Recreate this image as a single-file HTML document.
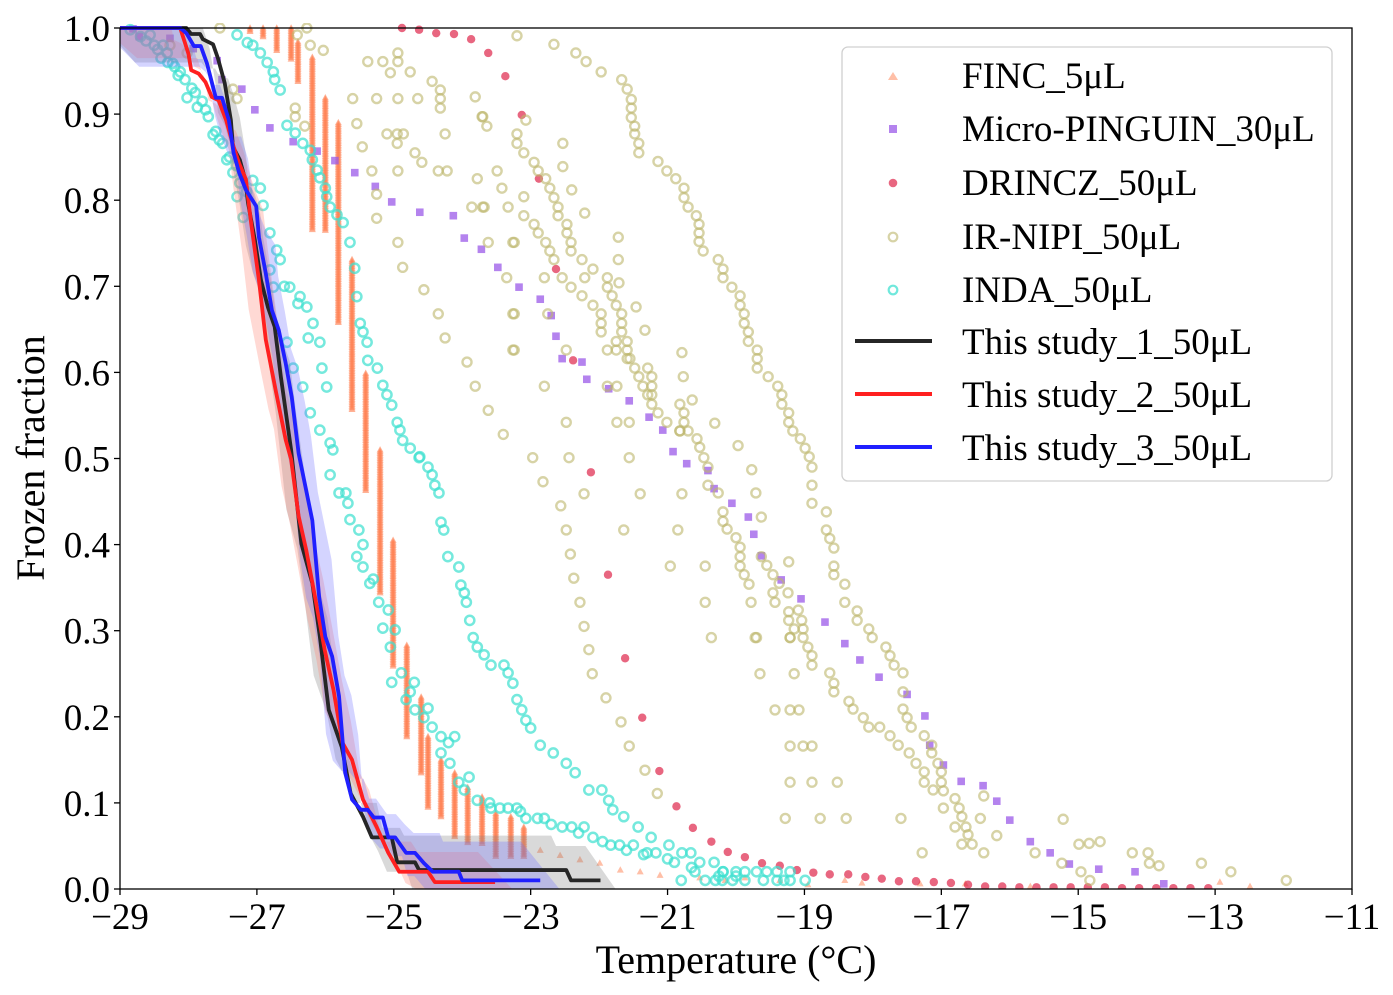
<!DOCTYPE html>
<html><head><meta charset="utf-8">
<style>
html,body{margin:0;padding:0;background:#fff;}
svg{display:block;font-family:"Liberation Serif","DejaVu Serif",serif;}
</style></head>
<body>
<svg id="chart" width="1393" height="995" viewBox="0 0 1393 995" xmlns="http://www.w3.org/2000/svg">
<rect width="1393" height="995" fill="#fff"/>
<g id="plot"></g>
<rect x="120" y="28" width="1232" height="861" fill="none" stroke="#000" stroke-width="1.3"/>
<g id="xticks"></g>
<g id="yticks"></g>
<text x="736" y="973" font-size="40" text-anchor="middle">Temperature (°C)</text>
<text transform="translate(44,458) rotate(-90)" font-size="40" text-anchor="middle">Frozen fraction</text>
<g id="legend">
<rect x="842" y="47" width="490" height="434" rx="6" fill="#fff" fill-opacity="0.85" stroke="#d0d0d0" stroke-width="1.3"/>
<g><polygon points="893,72 888,80 898,80" fill="#ff7f50" fill-opacity="0.5"/><text x="962" y="88" font-size="37">FINC_5μL</text></g>
<g><rect x="889" y="125" width="8" height="8" fill="#9b59e8" fill-opacity="0.75"/><text x="962" y="141" font-size="37">Micro-PINGUIN_30μL</text></g>
<g><circle cx="893" cy="183" r="4.3" fill="#dc143c" fill-opacity="0.65"/><text x="962" y="195" font-size="37">DRINCZ_50μL</text></g>
<g><circle cx="893" cy="237" r="4.3" fill="none" stroke="#bdb56b" stroke-opacity="0.6" stroke-width="2.2"/><text x="962" y="249" font-size="37">IR-NIPI_50μL</text></g>
<g><circle cx="893" cy="290" r="4.3" fill="none" stroke="#40e0d0" stroke-opacity="0.75" stroke-width="2.2"/><text x="962" y="302" font-size="37">INDA_50μL</text></g>
<g><line x1="855" y1="341" x2="932" y2="341" stroke="#262626" stroke-width="4"/><text x="962" y="354" font-size="37">This study_1_50μL</text></g>
<g><line x1="855" y1="394" x2="932" y2="394" stroke="#ff2020" stroke-width="4"/><text x="962" y="407" font-size="37">This study_2_50μL</text></g>
<g><line x1="855" y1="447" x2="932" y2="447" stroke="#2020ff" stroke-width="4"/><text x="962" y="460" font-size="37">This study_3_50μL</text></g>
</g>
</svg>
<script>
// ---- axis ticks ----
const xTickVals = [-29,-27,-25,-23,-21,-19,-17,-15,-13,-11];
const yTickVals = [0,0.1,0.2,0.3,0.4,0.5,0.6,0.7,0.8,0.9,1.0];
// ---- FINC streaks: temperature, top fraction, bottom fraction ----
const fincT   = [-27.10,-26.91,-26.71,-26.50,-26.40,-26.19,-26.00,-25.81,-25.61,-25.41,-25.20,-25.01,-24.81,-24.60,-24.50,-24.31,-24.11,-23.92,-23.71,-23.51,-23.29,-23.10];
const fincTop = [1.0,1.0,1.0,1.0,0.984,0.966,0.919,0.89,0.731,0.599,0.51,0.405,0.283,0.223,0.177,0.15,0.135,0.118,0.107,0.088,0.084,0.072];
const fincBot = [0.995,0.99,0.974,0.963,0.937,0.765,0.765,0.657,0.556,0.463,0.344,0.258,0.177,0.135,0.095,0.084,0.06,0.053,0.053,0.037,0.037,0.037];
const fincSparseT = [-22.86,-22.57,-22.28,-21.99,-21.69,-21.40,-21.11,-20.53,-20.16,-19.87,-19.36,-18.95,-18.41,-18.16,-17.31,-16.65,-15.70,-12.93,-12.49];
const fincSparseF = [0.045,0.039,0.034,0.030,0.022,0.020,0.016,0.013,0.010,0.013,0.010,0.005,0.010,0.007,0.006,0.006,0.003,0.008,0.003];
// ---- Micro-PINGUIN ----
const pingT = [-28.81,-28.72,-28.27,-27.93,-27.58,-27.51,-27.22,-27.03,-26.81,-26.47,-26.12,-25.86,-25.57,-25.27,-25.03,-24.62,-24.13,-23.97,-23.72,-23.48,-23.17,-22.86,-22.70,-22.63,-22.54,-22.25,-22.18,-21.86,-21.56,-21.27,-21.07,-20.92,-20.72,-20.41,-20.32,-20.06,-19.82,-19.74,-19.63,-19.34,-19.05,-18.70,-18.41,-18.19,-17.91,-17.50,-17.24,-17.17,-16.97,-16.71,-16.39,-16.19,-16.0,-15.70,-15.41,-15.13,-14.70,-14.17,-13.75];
const pingF = [0.999,0.99,0.988,0.976,0.962,0.94,0.929,0.905,0.884,0.868,0.857,0.846,0.832,0.816,0.798,0.786,0.782,0.756,0.743,0.722,0.699,0.685,0.666,0.642,0.616,0.612,0.592,0.581,0.567,0.548,0.533,0.508,0.494,0.486,0.465,0.448,0.432,0.412,0.387,0.359,0.337,0.31,0.285,0.266,0.246,0.226,0.201,0.167,0.144,0.125,0.12,0.102,0.08,0.055,0.042,0.029,0.023,0.02,0.006];
// ---- DRINCZ ----
const drinT = [-24.88,-24.63,-24.38,-24.12,-23.87,-23.62,-23.37,-23.13,-22.88,-22.63,-22.38,-22.12,-21.87,-21.62,-21.37,-21.12,-20.87,-20.63,-20.36,-20.12,-19.87,-19.62,-19.36,-19.11,-18.87,-18.63,-18.36,-18.11,-17.87,-17.62,-17.37,-17.11,-16.86,-16.61,-16.36,-16.11,-15.86,-15.61,-15.36,-15.11,-14.86,-14.61,-14.36,-14.11,-13.86,-13.61,-13.36,-13.10];
const drinF = [1.0,0.998,0.994,0.993,0.987,0.971,0.944,0.899,0.825,0.72,0.614,0.484,0.365,0.268,0.199,0.137,0.096,0.071,0.055,0.043,0.037,0.03,0.027,0.022,0.019,0.017,0.017,0.014,0.012,0.009,0.009,0.008,0.007,0.005,0.003,0.003,0.002,0.002,0.002,0.002,0.002,0.002,0.001,0.001,0.001,0.001,0.001,0.001];
// ---- IR-NIPI ----
const nipiT = [-21.67,-21.59,-21.53,-21.53,-21.53,-21.48,-21.48,-21.42,-21.42,-21.14,-21.01,-20.88,-20.76,-20.76,-20.70,-20.58,-20.54,-20.54,-20.54,-20.48,-20.26,-20.19,-20.19,-20.06,-19.94,-19.94,-19.88,-19.88,-19.82,-19.82,-19.69,-19.69,-19.69,-19.53,-19.39,-19.33,-19.33,-19.23,-19.23,-19.17,-19.06,-18.99,-18.93,-18.89,-18.89,-18.89,-18.68,-18.68,-18.63,-18.57,-18.57,-18.57,-18.41,-18.41,-18.23,-18.23,-18.06,-18.01,-17.81,-17.75,-17.69,-17.56,-17.56,-17.56,-17.50,-17.44,-17.25,-17.14,-17.14,-17.05,-17.0,-17.0,-16.97,-16.80,-16.74,-16.70,-16.64,-16.61,-16.55,-16.38,
-23.20,-23.20,-23.10,-22.95,-22.89,-22.78,-22.72,-22.66,-22.60,-22.60,-22.47,-22.47,-22.41,-22.41,-22.25,-22.09,-21.88,-21.88,-21.81,-21.75,-21.67,-21.67,-21.67,-21.59,-21.59,-21.55,-21.48,-21.42,-21.36,-21.23,-21.23,-21.14,-21.01,-20.82,-20.57,-20.53,-20.47,-20.41,-20.41,-20.26,-20.19,-20.19,-20.13,-20.0,-19.94,-19.94,-19.94,-19.88,-19.81,-19.46,-19.43,-19.23,-19.23,-19.15,-19.21,-19.02,-19.02,-18.95,-18.89,-18.89,-18.63,-18.57,-18.57,-18.35,-18.29,-18.14,-18.06,-17.90,-17.75,-17.63,-17.47,-17.37,-17.25,-17.25,-17.12,-16.97,-16.80,-16.70,
-22.95,-22.89,-22.78,-22.72,-22.66,-22.54,-22.41,-22.25,-22.09,-21.97,-21.97,-21.97,-21.75,-21.75,-21.59,-21.29,-21.23,-21.23,-21.29,-20.82,-20.76,-20.76,-20.82,-20.70,-19.63,-19.55,-19.46,-19.37,-19.24,-19.09,-19.04,
-23.20,-22.66,-22.34,-22.19,-21.97,-23.70,-23.64,-23.07,-22.53,-22.53,-23.49,-23.42,-22.40,-23.68,-23.33,-23.10,-23.10,-22.21,-21.72,-23.62,-23.24,-21.72,-23.35,-22.80,-22.21,-21.71,-21.46,-23.24,-22.75,-21.33,-23.24,-22.48,-21.88,-20.79,-20.77,-22.80,-21.88,-21.74,-20.64,-23.62,-22.48,-21.74,-21.56,-20.31,-23.40,
-27.54,-26.27,-26.41,-26.22,-26.03,-25.38,-25.16,-24.94,-24.94,-25.05,-24.76,-24.44,-24.32,-24.32,-24.32,-25.60,-25.25,-24.94,-24.65,-23.81,-23.71,-26.44,-26.44,-26.30,-25.54,-25.10,-24.95,-24.86,-24.95,-24.25,-25.46,-24.69,-24.59,-25.32,-24.94,-24.35,-24.22,-23.78,-25.25,-23.86,-23.70,-25.25,-24.94,-23.26,-24.87,-24.56,-24.35,-23.26,-24.25,-23.26,-23.93,-23.81,-27.35,-27.29,-28.02,-28.27,
-22.97,-22.44,-21.56,-22.82,-22.22,-21.40,-20.79,-22.56,-22.48,-21.64,-20.85,-22.42,-20.96,-20.45,-22.37,-22.28,-20.45,-19.78,-22.22,-20.36,-19.72,-22.15,-22.10,-19.65,-19.15,-21.90,-21.68,-21.56,-21.33,-21.15,-19.28,-19.23,-19.97,-19.77,-19.71,-19.63,-19.70,-19.21,-19.43,-19.21,-19.08,-19.21,-19.02,-18.89,-19.21,-18.89,-18.52,-18.77,-18.39,-17.59,-17.28,-15.63,-15.24,-15.22,-14.99,-14.84,-14.68,-14.21,-13.98,-13.96,-13.82,-13.20,-12.77,-11.96,-14.96,-14.83,-16.19,-16.38,-16.43];
const nipiF = [0.94,0.929,0.917,0.907,0.896,0.886,0.877,0.866,0.855,0.845,0.834,0.825,0.814,0.803,0.792,0.782,0.772,0.762,0.752,0.741,0.731,0.72,0.71,0.699,0.689,0.678,0.668,0.657,0.647,0.636,0.626,0.616,0.605,0.595,0.584,0.574,0.563,0.553,0.542,0.532,0.523,0.512,0.502,0.49,0.469,0.448,0.438,0.417,0.407,0.396,0.375,0.365,0.354,0.333,0.323,0.312,0.302,0.292,0.281,0.271,0.26,0.251,0.229,0.209,0.199,0.188,0.178,0.167,0.158,0.146,0.136,0.124,0.114,0.105,0.094,0.084,0.072,0.063,0.052,0.042,
0.877,0.866,0.855,0.844,0.834,0.825,0.814,0.803,0.792,0.782,0.772,0.762,0.751,0.741,0.731,0.72,0.71,0.699,0.689,0.678,0.668,0.657,0.647,0.636,0.626,0.616,0.605,0.595,0.584,0.574,0.563,0.553,0.542,0.532,0.523,0.513,0.501,0.49,0.469,0.46,0.438,0.427,0.418,0.408,0.397,0.386,0.375,0.365,0.354,0.344,0.333,0.322,0.312,0.302,0.292,0.302,0.292,0.281,0.271,0.26,0.251,0.239,0.229,0.218,0.209,0.199,0.188,0.188,0.178,0.167,0.158,0.146,0.136,0.124,0.115,0.094,0.072,0.052,
0.772,0.762,0.751,0.741,0.731,0.71,0.699,0.689,0.678,0.668,0.657,0.647,0.636,0.626,0.616,0.605,0.595,0.584,0.574,0.563,0.553,0.542,0.532,0.532,0.386,0.376,0.365,0.355,0.344,0.324,0.312,
0.991,0.981,0.971,0.961,0.949,0.897,0.886,0.893,0.866,0.839,0.834,0.814,0.812,0.792,0.792,0.804,0.782,0.785,0.757,0.751,0.751,0.731,0.71,0.71,0.71,0.704,0.676,0.668,0.668,0.649,0.626,0.626,0.626,0.623,0.595,0.584,0.584,0.584,0.568,0.556,0.542,0.542,0.542,0.541,0.528,
1.0,1.0,0.992,0.98,0.974,0.961,0.961,0.971,0.961,0.948,0.949,0.938,0.928,0.918,0.907,0.918,0.918,0.918,0.918,0.92,0.897,0.907,0.897,0.886,0.889,0.877,0.877,0.877,0.866,0.877,0.862,0.855,0.844,0.834,0.834,0.834,0.834,0.825,0.807,0.792,0.792,0.779,0.751,0.751,0.722,0.696,0.668,0.668,0.64,0.626,0.612,0.584,0.929,0.918,0.971,0.98,
0.501,0.501,0.501,0.473,0.459,0.459,0.459,0.445,0.417,0.417,0.417,0.389,0.375,0.375,0.361,0.333,0.333,0.333,0.305,0.292,0.292,0.278,0.25,0.25,0.25,0.222,0.194,0.166,0.138,0.111,0.082,0.38,0.515,0.487,0.46,0.432,0.292,0.292,0.208,0.208,0.208,0.166,0.166,0.166,0.124,0.124,0.124,0.082,0.082,0.082,0.042,0.042,0.03,0.081,0.052,0.053,0.055,0.042,0.042,0.03,0.027,0.03,0.02,0.01,0.02,0.01,0.062,0.108,0.082];
// ---- INDA ----
const indaT = [-28.85,-28.56,-28.37,-28.31,-28.23,-28.12,-28.02,-27.87,-27.71,-27.64,-27.50,-27.44,-27.35,-27.29,-27.20,-27.06,-26.95,-26.91,-26.81,-26.71,-26.66,-26.81,-26.76,-26.52,-26.37,-26.27,-26.18,-26.56,-26.47,-26.08,-26.05,-26.33,-25.98,-26.22,-26.08,-25.93,-25.89,-25.93,-25.80,-25.67,-25.64,-25.51,-25.54,-25.45,-25.35,-25.22,-25.08,-25.16,-24.98,-25.05,-24.89,-25.03,-24.76,-24.82,-24.69,-24.56,-24.44,-24.31,-24.11,-24.31,-24.18,-24.05,-23.97,-23.78,-23.58,-23.33,-23.07,-22.80,-22.54,-22.22,-22.09,-21.83,-21.50,-21.17,-20.79,-20.53,-20.19,-19.87,-19.55,-19.21,-20.45,-19.87,-19.21,-18.99,-20.0,-19.7,-19.4,-20.2,-19.6,-19.4,-20.6,-20.9,-21.3,-21.7,-22.4,-22.9,-23.2,-23.45,-20.8,-20.3,-20.05,-19.3,
-28.70,-28.62,-28.50,-28.45,-28.40,-28.30,-28.20,-28.15,-28.05,-27.95,-27.90,-27.80,-27.75,-27.60,-27.55,-27.40,-27.30,-27.25,-27.15,-26.60,-26.40,-26.25,-25.70,-25.45,-25.30,-24.70,-24.50,-24.20,-23.90,-23.60,-23.15,-22.70,-22.30,-21.95,-21.60,-21.35,-21.00,-20.65,-20.25,-20.00,
-27.29,-27.14,-27.06,-26.95,-26.85,-26.76,-26.74,-26.66,-26.56,-26.44,-26.33,-26.22,-26.19,-26.12,-26.08,-26.0,-25.98,-25.93,-25.83,-25.74,-25.64,-25.57,-25.54,-25.49,-25.45,-25.39,-25.38,-25.24,-25.16,-25.10,-25.03,-24.95,-24.91,-24.87,-24.76,-24.62,-24.63,-24.50,-24.44,-24.40,-24.34,-24.31,-24.27,-24.21,-24.05,-24.02,-23.97,-23.94,-23.89,-23.84,-23.78,-23.68,-23.58,-23.39,-23.33,-23.26,-23.20,-23.13,-23.07,-23.0,-22.86,-22.67,-22.48,-22.35,-22.15,-21.96,-21.86,-21.80,-21.64,-21.43,-21.24,-20.98,-20.66,-20.32,-20.19];
const indaF = [0.998,0.992,0.98,0.971,0.959,0.949,0.919,0.908,0.897,0.876,0.866,0.847,0.832,0.804,0.78,0.823,0.814,0.794,0.762,0.742,0.731,0.719,0.699,0.699,0.688,0.676,0.657,0.635,0.605,0.635,0.605,0.583,0.583,0.553,0.533,0.518,0.51,0.481,0.46,0.448,0.429,0.417,0.386,0.374,0.355,0.333,0.324,0.303,0.301,0.281,0.251,0.24,0.229,0.22,0.208,0.199,0.188,0.177,0.177,0.158,0.146,0.124,0.115,0.103,0.094,0.094,0.082,0.082,0.072,0.072,0.06,0.051,0.051,0.042,0.042,0.031,0.02,0.02,0.02,0.02,0.01,0.01,0.01,0.01,0.02,0.02,0.02,0.01,0.01,0.01,0.02,0.031,0.042,0.051,0.072,0.082,0.094,0.094,0.01,0.01,0.01,0.01,
0.99,0.985,0.98,0.975,0.965,0.96,0.955,0.945,0.94,0.93,0.925,0.915,0.905,0.88,0.87,0.85,0.84,0.82,0.81,0.70,0.68,0.64,0.46,0.40,0.36,0.24,0.21,0.17,0.13,0.10,0.09,0.075,0.065,0.055,0.045,0.04,0.035,0.025,0.015,0.015,
0.992,0.983,0.98,0.971,0.96,0.949,0.94,0.928,0.887,0.878,0.866,0.858,0.847,0.835,0.826,0.814,0.804,0.792,0.783,0.774,0.751,0.721,0.688,0.657,0.647,0.635,0.614,0.605,0.585,0.574,0.562,0.542,0.533,0.521,0.512,0.502,0.501,0.49,0.481,0.469,0.46,0.426,0.417,0.386,0.374,0.353,0.344,0.333,0.312,0.292,0.281,0.272,0.26,0.26,0.251,0.239,0.22,0.208,0.196,0.187,0.167,0.158,0.146,0.135,0.115,0.115,0.103,0.092,0.084,0.072,0.06,0.051,0.042,0.031,0.02];
// ---- This study lines ----
const s1T = [-29,-28.03,-27.96,-27.83,-27.79,-27.64,-27.57,-27.47,-27.38,-27.35,-27.25,-27.17,-27.13,-27.03,-26.94,-26.84,-26.74,-26.65,-26.5,-26.35,-26.19,-26.08,-25.95,-25.76,-25.63,-25.45,-25.32,-25.03,-24.95,-24.69,-24.63,-22.48,-22.41,-21.98];
const s1F = [1.0,1.0,0.993,0.993,0.987,0.981,0.965,0.936,0.893,0.862,0.847,0.824,0.797,0.754,0.707,0.676,0.653,0.595,0.51,0.401,0.355,0.293,0.208,0.165,0.111,0.084,0.06,0.06,0.031,0.031,0.022,0.022,0.01,0.01];
const s2T = [-29,-28.12,-28.0,-27.96,-27.85,-27.75,-27.66,-27.56,-27.45,-27.34,-27.26,-27.16,-27.09,-26.97,-26.87,-26.72,-26.58,-26.50,-26.39,-26.28,-26.15,-26.01,-25.88,-25.75,-25.61,-25.45,-25.25,-25.08,-24.92,-24.50,-24.40,-23.52];
const s2F = [1.0,1.0,0.97,0.951,0.947,0.937,0.92,0.916,0.893,0.862,0.843,0.824,0.777,0.707,0.638,0.577,0.522,0.499,0.433,0.394,0.339,0.278,0.231,0.17,0.15,0.104,0.072,0.042,0.02,0.02,0.008,0.008];
const s3T = [-29,-28.12,-28.03,-27.92,-27.82,-27.73,-27.60,-27.51,-27.41,-27.34,-27.26,-27.16,-27.01,-26.97,-26.87,-26.78,-26.68,-26.58,-26.49,-26.39,-26.19,-26.09,-26.0,-25.90,-25.80,-25.71,-25.61,-25.48,-25.38,-25.29,-25.16,-25.08,-24.98,-24.82,-24.69,-24.56,-24.43,-24.05,-24.0,-22.86];
const s3F = [1.0,1.0,0.994,0.979,0.979,0.959,0.919,0.919,0.893,0.855,0.832,0.812,0.793,0.757,0.715,0.672,0.649,0.611,0.571,0.506,0.428,0.339,0.293,0.27,0.224,0.135,0.104,0.092,0.092,0.083,0.083,0.06,0.06,0.042,0.042,0.03,0.02,0.02,0.01,0.01];

// ---- axis functions ----
const X0=120, X1=1352, Y0=889, Y1=28, TMIN=-29, TMAX=-11;
function sx(t){return X0+(t-TMIN)/(TMAX-TMIN)*(X1-X0);}
function sy(f){return Y0-f*(Y0-Y1);}
const NS='http://www.w3.org/2000/svg';
function mk(tag,attrs,parent){const e=document.createElementNS(NS,tag);for(const k in attrs)e.setAttribute(k,attrs[k]);parent.appendChild(e);return e;}
const plot=document.getElementById('plot');

const defs=mk('defs',{},plot);
const cp=mk('clipPath',{id:'clip'},defs);
mk('rect',{x:X0,y:Y1-5,width:X1-X0,height:Y0-Y1+5},cp);
const g=mk('g',{'clip-path':'url(#clip)'},plot);

// FINC
const gF=mk('g',{},g);


function tri(t,f,op){const x=sx(t),y=sy(f);const p=mk('polygon',{points:`${x},${y-3.8} ${x-3.5},${y+2.6} ${x+3.5},${y+2.6}`,fill:'#ff7f50','fill-opacity':op},gF);}
for(let i=0;i<fincT.length;i++){for(let f=fincTop[i];f>=fincBot[i]-1e-9;f-=0.002){tri(fincT[i],f,'0.6');}}
for(let i=0;i<fincSparseT.length;i++)tri(fincSparseT[i],fincSparseF[i],'0.5');

// Micro-PINGUIN
const gP=mk('g',{},g);


for(let i=0;i<pingT.length;i++){const r=mk('rect',{x:sx(pingT[i])-3.8,y:sy(pingF[i])-3.8,width:7.6,height:7.6,fill:'#9b59e8','fill-opacity':'0.75'},gP);}

// DRINCZ
const gD=mk('g',{},g);


for(let i=0;i<drinT.length;i++){const c=mk('circle',{cx:sx(drinT[i]),cy:sy(drinF[i]),r:4.2,fill:'#dc143c','fill-opacity':'0.65'},gD);}

// IR-NIPI
const gN=mk('g',{},g);


for(let i=0;i<nipiT.length;i++){const c=mk('circle',{cx:sx(nipiT[i]),cy:sy(nipiF[i]),r:4.5,fill:'none',stroke:'#bdb56b','stroke-opacity':'0.6','stroke-width':2.4},gN);}

// INDA
const gI=mk('g',{},g);


for(let i=0;i<indaT.length;i++){const c=mk('circle',{cx:sx(indaT[i]),cy:sy(indaF[i]),r:4.6,fill:'none',stroke:'#40e0d0','stroke-opacity':'0.72','stroke-width':2.5},gI);}

// study lines + bands
const studies=[[s1T,s1F,'#262626','#808080',0.3,'study-1'],[s2T,s2F,'#ff2020','#ff8070',0.3,'study-2'],[s3T,s3F,'#2020ff','#7070ff',0.3,'study-3']];
const bandDx=[0.22,0.25,0.28], bandDy=[0.04,0.035,0.045];
studies.forEach((s,k)=>{
  const [T,F,col,bcol,op,nm]=s;
  const up=[],lo=[];
  for(let i=0;i<T.length;i++){up.push([sx(T[i]-bandDx[k]),sy(Math.min(1,F[i]+bandDy[k]))]);lo.push([sx(T[i]+bandDx[k]),sy(Math.max(0,F[i]-bandDy[k]))]);}
  const pts=up.concat(lo.reverse()).map(p=>p.join(',')).join(' ');
  const b=mk('polygon',{points:pts,fill:bcol,'fill-opacity':op},g);
  
  
});
studies.forEach((s,k)=>{
  const [T,F,col,bcol,op,nm]=s;
  const d=T.map((t,i)=>(i?'L':'M')+sx(t)+','+sy(F[i])).join(' ');
  const l=mk('path',{d:d,fill:'none',stroke:col,'stroke-width':3.8,'stroke-linejoin':'round'},g);
  
  
});

// ticks
const gx=document.getElementById('xticks'), gy=document.getElementById('yticks');
xTickVals.forEach(v=>{
  const x=sx(v);
  const t=mk('line',{x1:x,y1:Y0,x2:x,y2:Y0+6,stroke:'#000','stroke-width':1.3},gx);
  
  
  const l=mk('text',{x:x,y:929,'font-size':37,'text-anchor':'middle'},gx);
  l.textContent='\u2212'+Math.abs(v);
  
  
});
yTickVals.forEach(v=>{
  const y=sy(v);
  const t=mk('line',{x1:X0-6,y1:y,x2:X0,y2:y,stroke:'#000','stroke-width':1.3},gy);
  
  
  const l=mk('text',{x:110,y:y+13,'font-size':37,'text-anchor':'end'},gy);
  l.textContent=v.toFixed(1);
  
  
});
</script>
</body></html>
